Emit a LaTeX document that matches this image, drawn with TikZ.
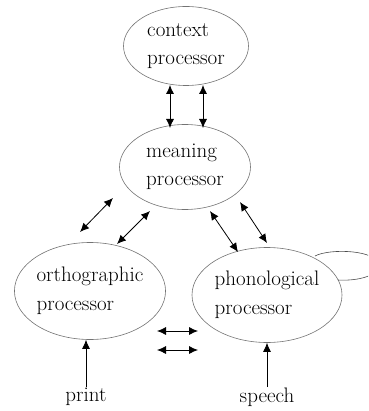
\documentclass[tikz,border=0pt]{standalone}
\usetikzlibrary{arrows.meta,shapes.geometric}
\begin{document}
\begin{tikzpicture}[x=1pt,y=-1pt,
  proc/.style={ellipse,draw=black!55,line width=0.6pt,inner sep=0pt,
    align=left,font=\fontsize{21}{28.5}\selectfont},
  label/.style={inner sep=0pt,font=\fontsize{21}{24}\selectfont},
  link/.style={line width=0.8pt,{Latex[length=9pt,width=8pt]}-{Latex[length=9pt,width=8pt]}},
  feed/.style={line width=0.8pt,-{Latex[length=9pt,width=8pt]}}]
\useasboundingbox (0,0) rectangle (368,411);
\begin{scope}
\clip (0,0) rectangle (368,411);

% processors
\node[proc,minimum width=125pt,minimum height=79pt] (ctx) at (186,46) {context\\processor};
\node[proc,minimum width=131pt,minimum height=85pt] (mean) at (185,167) {meaning\\processor};
\node[proc,minimum width=150pt,minimum height=97pt] (orth) at (90,291) {orthographic\\processor};
\node[proc,minimum width=150pt,minimum height=95pt] (phon) at (267,295) {phonological\\processor};

% inputs
\node[label] (print) at (86,397) {print};
\node[label] (speech) at (267,397) {speech};

% connector end points
\coordinate (c1) at (170,85);  \coordinate (m1) at (170,128);
\coordinate (c2) at (203,85);  \coordinate (m2) at (203,128);
\coordinate (a1) at (80,232);  \coordinate (b1) at (113,198);
\coordinate (a2) at (117,244); \coordinate (b2) at (150,211);
\coordinate (a3) at (210,211); \coordinate (b3) at (238,252);
\coordinate (a4) at (240,202); \coordinate (b4) at (267,243);
\coordinate (h1l) at (157,331); \coordinate (h1r) at (198,331);
\coordinate (h2l) at (157,350); \coordinate (h2r) at (198,350);
\coordinate (l1) at (315,256); \coordinate (l2) at (338,280);

% links between processors
\draw[link] (c1) -- (m1);
\draw[link] (c2) -- (m2);
\draw[link] (a1) -- (b1);
\draw[link] (a2) -- (b2);
\draw[link] (a3) -- (b3);
\draw[link] (a4) -- (b4);
\draw[link] (h1l) -- (h1r);
\draw[link] (h2l) -- (h2r);

% inputs feeding the lower processors
\draw[feed] (print.north |- 0,387) -- (print.north |- orth.south);
\draw[feed] (speech.north |- 0,387) -- (speech.north |- phon.south);

% self loop on the phonological processor
\draw[black!70,line width=0.6pt] (l1) .. controls (330,248) and (378,250) .. (378,265)
  .. controls (378,278) and (352,281) .. (l2);
\end{scope}
\end{tikzpicture}
\end{document}
